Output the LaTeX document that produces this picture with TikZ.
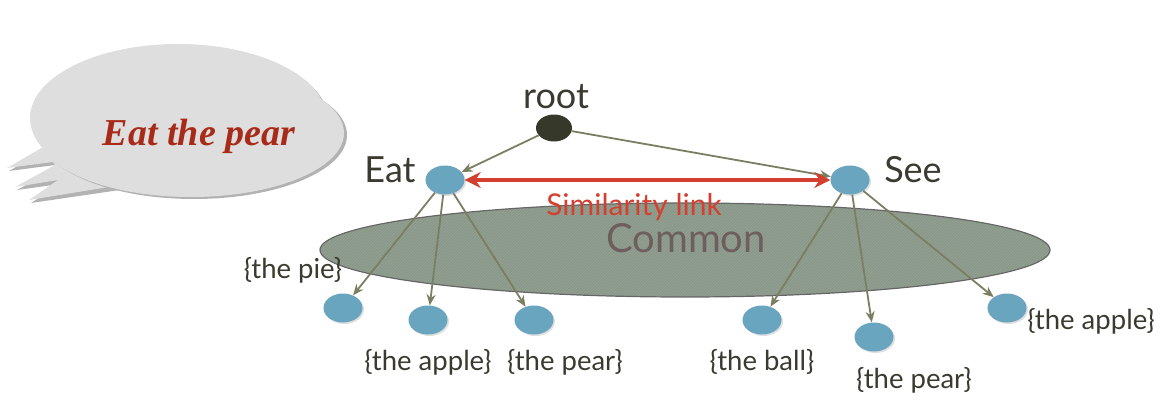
\documentclass[tikz,border=0pt]{standalone}
\usepackage{fontspec}
\setmainfont{Lato}
\newfontfamily\bubblefont{Liberation Serif}
\usetikzlibrary{shapes.geometric,arrows.meta,shadows,patterns}
\definecolor{bubblegray}{HTML}{DEDEDE}
\definecolor{bubblered}{HTML}{A82A18}
\definecolor{leafblue}{HTML}{6AA5C0}
\definecolor{rootblack}{HTML}{36392A}
\definecolor{olive}{HTML}{7A7F62}
\definecolor{linkred}{HTML}{D44030}
\definecolor{commonfill}{HTML}{8A988A}
\definecolor{commontext}{HTML}{6E5E5E}
\definecolor{labeltext}{HTML}{3A3A30}
\tikzset{
  leaf/.style={ellipse, fill=leafblue, minimum width=39pt, minimum height=29pt, inner sep=0pt,
    drop shadow={shadow xshift=1.5pt, shadow yshift=-1.5pt, opacity=0.25}},
  rootnode/.style={ellipse, fill=rootblack, minimum width=36pt, minimum height=27pt, inner sep=0pt},
  lbl/.style={text=labeltext, font=\fontsize{27.5}{30}\selectfont, inner sep=0pt},
  biglbl/.style={text=labeltext, font=\fontsize{36}{40}\selectfont, inner sep=0pt},
  edge/.style={draw=olive, line width=1.8pt, -{Stealth[length=11pt,width=9pt]}},
}
\begin{document}
\begin{tikzpicture}[x=1pt,y=-1pt]
\useasboundingbox (0,0) rectangle (1170,412);
% speech bubble
\begin{scope}
\fill[black!30] (45,150) -- (9,171) -- (55,165) -- (57,168) -- (17,190) -- (60,184) -- (31,203) -- (120,190) -- cycle;
\fill[bubblegray] (43,147) -- (7,168) -- (53,162) -- (55,165) -- (15,187) -- (58,180) -- (29,200) -- (115,186) -- cycle;
\fill[black!30] (180,120) ellipse [x radius=148, y radius=74];
\fill[bubblegray] (178,118) ellipse [x radius=148, y radius=74];
\fill[black!30] (194,135) ellipse [x radius=153, y radius=64];
\fill[bubblegray] (191,133) ellipse [x radius=153, y radius=64];
\fill[bubblegray] (176,116) ellipse [x radius=144, y radius=70];
\end{scope}
\node[text=bubblered, font=\bubblefont\bfseries\itshape\fontsize{38}{42}\selectfont, inner sep=0pt] (bubbletext) at (199,136) {Eat the pear};
% common ellipse
\path[fill=commonfill, draw=black!60, line width=1.2pt] (685,250) ellipse [x radius=365, y radius=47];
\path[pattern=north east lines, pattern color=commonfill!80!white, opacity=0.5] (685,250) ellipse [x radius=364, y radius=46];
\node[text=commontext, font=\fontsize{40}{44}\selectfont, inner sep=0pt] (common) at (686,238) {Common};
\node[text=linkred, font=\fontsize{30}{34}\selectfont, inner sep=0pt] (simlabel) at (634,207) {Similarity link};
% nodes
\node[rootnode] (root) at (554,128) {};
\node[biglbl] (rootlbl) at (556,97) {root};
\node[leaf] (eat) at (445,180) {};
\node[biglbl] (eatlbl) at (390,170) {Eat};
\node[leaf] (see) at (850,180) {};
\node[biglbl] (seelbl) at (913,170) {See};
\node[leaf] (pie) at (343,308) {};
\node[leaf] (apple1) at (428,320) {};
\node[leaf] (pear1) at (534,320) {};
\node[leaf] (ball) at (762,320) {};
\node[leaf] (pear2) at (874,337) {};
\node[leaf] (apple2) at (1007,308) {};
\node[lbl] (pielbl) at (293,270) {\{the pie\}};
\node[lbl] (apple1lbl) at (428,362) {\{the apple\}};
\node[lbl] (pear1lbl) at (565,362) {\{the pear\}};
\node[lbl] (balllbl) at (762,362) {\{the ball\}};
\node[lbl] (pear2lbl) at (914,380) {\{the pear\}};
\node[lbl] (apple2lbl) at (1091,321) {\{the apple\}};
% edges
\draw[edge] (root) -- (eat);
\draw[edge] (root) -- (see);
\draw[edge] (eat) -- (pie);
\draw[edge] (eat) -- (apple1);
\draw[edge] (eat) -- (pear1);
\draw[edge] (see) -- (ball);
\draw[edge] (see) -- (pear2);
\draw[edge] (see) -- (apple2);
\draw[linkred, line width=3.5pt, {Stealth[length=16pt,width=16pt]}-{Stealth[length=16pt,width=16pt]}] (eat) -- (see);
\end{tikzpicture}
\end{document}
